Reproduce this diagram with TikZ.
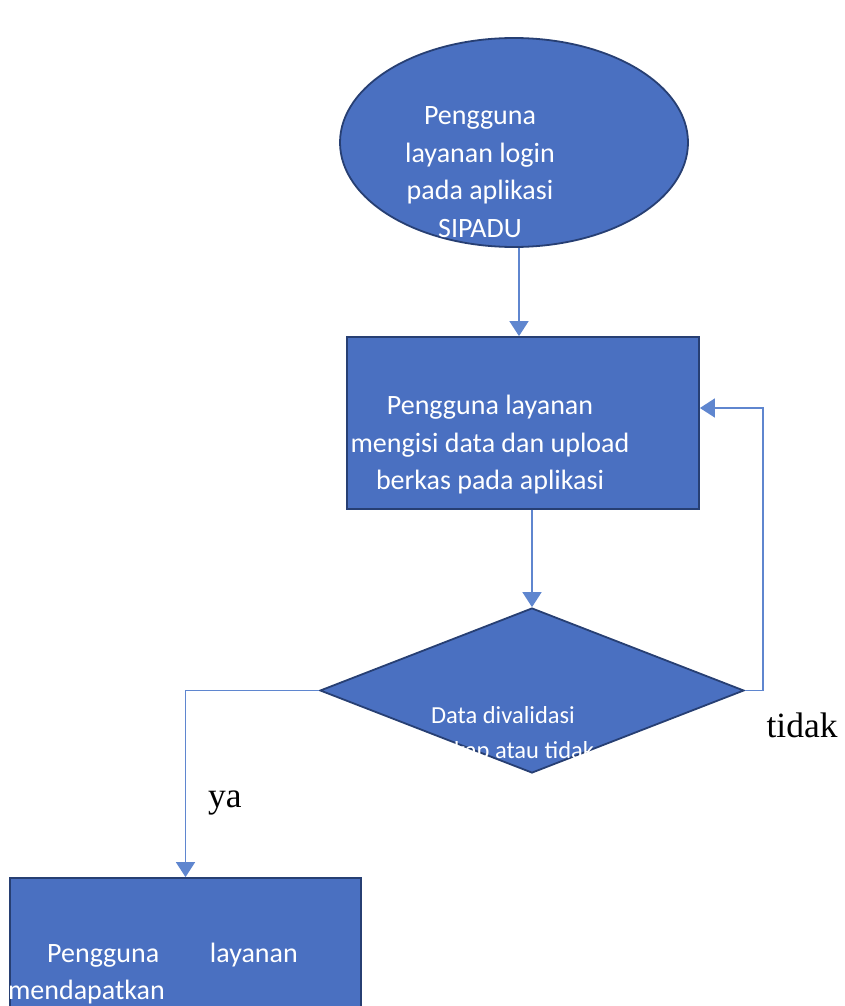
\documentclass[tikz,border=0pt]{standalone}
\usepackage{fontspec}
\setmainfont{Carlito}
\newfontfamily\labelserif{Liberation Serif}
\usetikzlibrary{arrows.meta,shapes.geometric,calc}
\definecolor{fillblue}{HTML}{4A70C1}
\definecolor{edgeblue}{HTML}{273F73}
\definecolor{linkblue}{HTML}{5F86CF}
\begin{document}
\begin{tikzpicture}[x=1pt,y=-1pt,
  shapebox/.style={draw=edgeblue, fill=fillblue, line width=1.8pt, inner sep=0pt},
  txt/.style={text=white, font=\fontsize{28}{37.5}\selectfont, inner sep=0pt, align=center},
  smalltxt/.style={text=white, font=\fontsize{24.5}{35}\selectfont, inner sep=0pt, align=center},
  link/.style={draw=linkblue, line width=1.6pt, -{Triangle[length=15pt,width=19pt]}},
  lbl/.style={font=\labelserif\fontsize{35.5}{38}\selectfont, inner sep=0pt}]
\useasboundingbox (0,0) rectangle (844,1006);
\clip (0,0) rectangle (844,1006);

% shapes
\node[shapebox, ellipse, minimum width=348pt, minimum height=209pt] (start) at (514,142.5) {};
\node[shapebox, rectangle, minimum width=352pt, minimum height=172pt] (fill) at (523,423) {};
\node[shapebox, diamond, minimum width=424pt, minimum height=165pt] (dec) at (532,690.5) {};
\node[shapebox, rectangle, minimum width=351pt, minimum height=170pt] (done) at (185.5,963) {};

% texts
\node[txt] (starttxt) at (480,172) {Pengguna\\layanan login\\pada aplikasi\\SIPADU};
\node[txt] (filltxt) at (490,445) {Pengguna layanan\\mengisi data dan upload\\berkas pada aplikasi};
\node[smalltxt] (dectxt) at (503,735) {Data divalidasi\\lengkap atau tidak};
\node[txt, anchor=base west] (donetxt1) at (47,962) {Pengguna};
\node[txt, anchor=base east] (donetxt2) at (298,962) {layanan};
\node[txt, anchor=base east] (donetxt3) at (165,999) {mendapatkan};

% connectors
\coordinate (xa) at (519,0);
\draw[link] (xa |- start.south) -- (xa |- fill.north);
\draw[link] (dec.north |- fill.south) -- (dec.north);
\coordinate (loopin) at ($(fill.east)+(0,-15)$);
\draw[link] (dec.east) -- ++(18,0) |- (loopin);
\draw[link] (dec.west) -| (done.north);

% labels
\node[lbl] (tidak) at (802,725) {tidak};
\node[lbl] (ya) at (225,803) {ya};
\end{tikzpicture}
\end{document}
